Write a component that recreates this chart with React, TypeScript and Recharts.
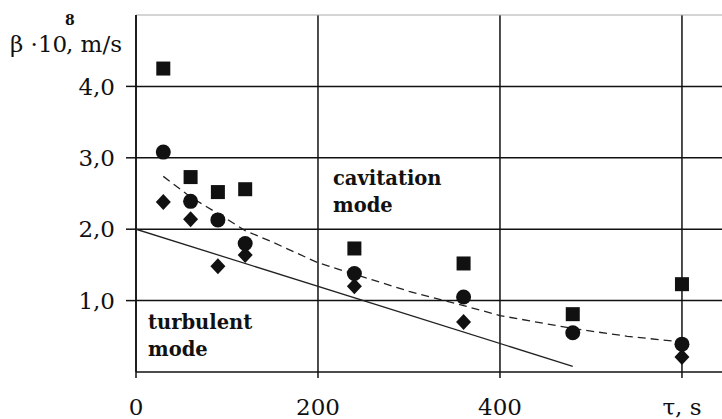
import { CartesianGrid, ReferenceLine, Scatter, ScatterChart, XAxis, YAxis } from 'recharts';

// τ, s
const times = [30, 60, 90, 120, 240, 360, 480, 600];
const squareValues = [4.25, 2.73, 2.52, 2.56, 1.73, 1.52, 0.81, 1.23];
const circleValues = [3.08, 2.39, 2.13, 1.8, 1.38, 1.05, 0.55, 0.39];
const diamondTimes = [30, 60, 90, 120, 240, 360, 600];
const diamondValues = [2.38, 2.14, 1.48, 1.64, 1.2, 0.7, 0.21];

// dashed trend through cavitation points
const trendTimes = [30, 60, 90, 120, 150, 200, 260, 300, 360, 400, 480, 540, 600];
const trendValues = [2.74, 2.45, 2.22, 1.98, 1.82, 1.53, 1.29, 1.13, 0.93, 0.79, 0.61, 0.5, 0.42];

// boundary of turbulent mode
const boundaryTimes = [0, 480];
const boundaryValues = [2.0, 0.08];

const xTicks = [0, 200, 400, 600];
const xTickLabels = ['0', '200', '400', 'τ, s'];
const yTicks = [1, 2, 3, 4];
const yTickLabels = ['1,0', '2,0', '3,0', '4,0'];

const pts = (xs: number[], ys: number[]) => xs.map((x, i) => ({ x, y: ys[i] }));

const squares = pts(times, squareValues);
const circles = pts(times, circleValues);
const diamonds = pts(diamondTimes, diamondValues);
const trend = pts(trendTimes, trendValues);
const boundary = pts(boundaryTimes, boundaryValues);

const serif = '"DejaVu Serif", serif';
const ink = '#111';

const Square = ({ cx, cy }: any) => <rect x={cx - 7} y={cy - 7} width={14} height={14} fill={ink} />;
const Dot = ({ cx, cy }: any) => <circle cx={cx} cy={cy} r={7.5} fill={ink} />;
const Diamond = ({ cx, cy }: any) => (
  <path d={`M${cx},${cy - 8} L${cx + 7.5},${cy} L${cx},${cy + 8} L${cx - 7.5},${cy} Z`} fill={ink} />
);
const Nothing = () => <g />;

export default function App() {
  const tick = { fill: ink, fontSize: 23, fontFamily: serif };
  return (
    <div style={{ position: 'absolute', left: 0, top: 0, width: 722, height: 419, background: '#fff' }}>
      <ScatterChart width={722} height={419} margin={{ top: 15, right: 0, bottom: 0, left: 0 }}>
        <CartesianGrid stroke={ink} strokeWidth={1.5} syncWithTicks />
        <XAxis
          type="number"
          dataKey="x"
          domain={[0, 644]}
          allowDataOverflow
          ticks={xTicks}
          tickFormatter={(v: number) => xTickLabels[xTicks.indexOf(v)]}
          height={47}
          tickSize={6}
          tickMargin={21}
          tick={tick}
          axisLine={{ stroke: ink, strokeWidth: 1.5 }}
          tickLine={{ stroke: ink, strokeWidth: 1.5 }}
        />
        <YAxis
          type="number"
          dataKey="y"
          domain={[0, 5]}
          allowDataOverflow
          ticks={yTicks}
          tickFormatter={(v: number) => yTickLabels[yTicks.indexOf(v)]}
          width={136}
          tickSize={10}
          tickMargin={11}
          tick={tick}
          axisLine={{ stroke: ink, strokeWidth: 1.5 }}
          tickLine={{ stroke: ink, strokeWidth: 1.5 }}
        />
        <ReferenceLine y={5} stroke="#aaa" strokeWidth={1} />
        <Scatter
          data={boundary}
          line={{ stroke: '#222', strokeWidth: 1.3 }}
          shape={Nothing}
          isAnimationActive={false}
        />
        <Scatter
          data={trend}
          line={{ stroke: '#222', strokeWidth: 1.3, strokeDasharray: '8 5' }}
          shape={Nothing}
          isAnimationActive={false}
        />
        <Scatter data={squares} shape={Square} isAnimationActive={false} />
        <Scatter data={diamonds} shape={Diamond} isAnimationActive={false} />
        <Scatter data={circles} shape={Dot} isAnimationActive={false} />
      </ScatterChart>
      <svg
        width={722}
        height={419}
        style={{ position: 'absolute', left: 0, top: 0, pointerEvents: 'none' }}
      >
        <text x={10} y={52} fontFamily={serif} fontSize={23} fill={ink}>
          β ·10
        </text>
        <text x={66} y={52} fontFamily={serif} fontSize={23} fill={ink}>
          , m/s
        </text>
        <text x={65} y={25} fontFamily={serif} fontSize={14} fontWeight="bold" fill={ink}>
          8
        </text>
        <g fontFamily={serif} fontSize={19.5} fontWeight="bold" fill={ink}>
          <text x={333} y={185}>cavitation</text>
          <text x={333} y={212}>mode</text>
          <text x={148} y={329}>turbulent</text>
          <text x={148} y={356}>mode</text>
        </g>
      </svg>
    </div>
  );
}
